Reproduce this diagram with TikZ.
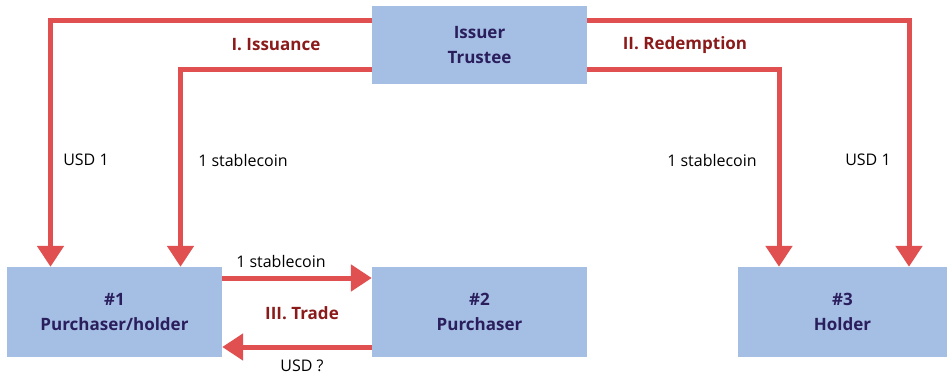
\documentclass[tikz,border=0pt]{standalone}
\usepackage{fontspec}
\setmainfont{Open Sans}
\usetikzlibrary{arrows.meta}
\definecolor{boxblue}{HTML}{A4BEE4}
\definecolor{txtnavy}{HTML}{2A1E5C}
\definecolor{arrred}{HTML}{E05050}
\definecolor{lblred}{HTML}{8B1A1A}
\begin{document}
\begin{tikzpicture}[x=1pt,y=-1pt,
  party/.style={fill=boxblue,draw=none,inner sep=0pt,font=\fontsize{17}{24.5}\selectfont\bfseries,text=txtnavy,align=center},
  flow/.style={draw=arrred,line width=5pt},
  flowarr/.style={flow,-{Triangle[width=26pt,length=21pt]}},
  phase/.style={font=\fontsize{17}{20}\selectfont\bfseries,text=lblred},
  amt/.style={font=\fontsize{16}{19}\selectfont,text=black}]
\useasboundingbox (0,0) rectangle (947,377);
\node[party,minimum width=215pt,minimum height=78pt] (iss) at (479.5,45) {Issuer\\Trustee};
\node[party,minimum width=215pt,minimum height=90pt] (p1) at (114.5,312) {\#1\\Purchaser/holder};
\node[party,minimum width=215pt,minimum height=90pt] (p2) at (479.5,312) {\#2\\Purchaser};
\node[party,minimum width=209pt,minimum height=90pt] (p3) at (842.5,312) {\#3\\Holder};
\coordinate (c1) at (50.5,21);
\coordinate (c2) at (180.5,69.5);
\coordinate (c3) at (779,69.5);
\coordinate (c4) at (909,21);
\draw[flowarr] (iss.west |- c1) -- (c1) -- (c1 |- p1.north);
\draw[flowarr] (iss.west |- c2) -- (c2) -- (c2 |- p1.north);
\draw[flowarr] (iss.east |- c3) -- (c3) -- (c3 |- p3.north);
\draw[flowarr] (iss.east |- c4) -- (c4) -- (c4 |- p3.north);
\coordinate (t1) at (300,278);
\coordinate (t2) at (300,347);
\draw[flowarr] (p1.east |- t1) -- (p2.west |- t1);
\draw[flowarr] (p2.west |- t2) -- (p1.east |- t2);
\node[phase] (lI) at (276,45) {I. Issuance};
\node[phase] (lII) at (685,45) {II. Redemption};
\node[phase] (lIII) at (302,313) {III. Trade};
\node[amt] (a1) at (86,160) {USD 1};
\node[amt] (a2) at (243,160) {1 stablecoin};
\node[amt] (a3) at (712,160) {1 stablecoin};
\node[amt] (a4) at (868,160) {USD 1};
\node[amt] (a5) at (281,261) {1 stablecoin};
\node[amt] (a6) at (302,366) {USD ?};
\end{tikzpicture}
\end{document}
